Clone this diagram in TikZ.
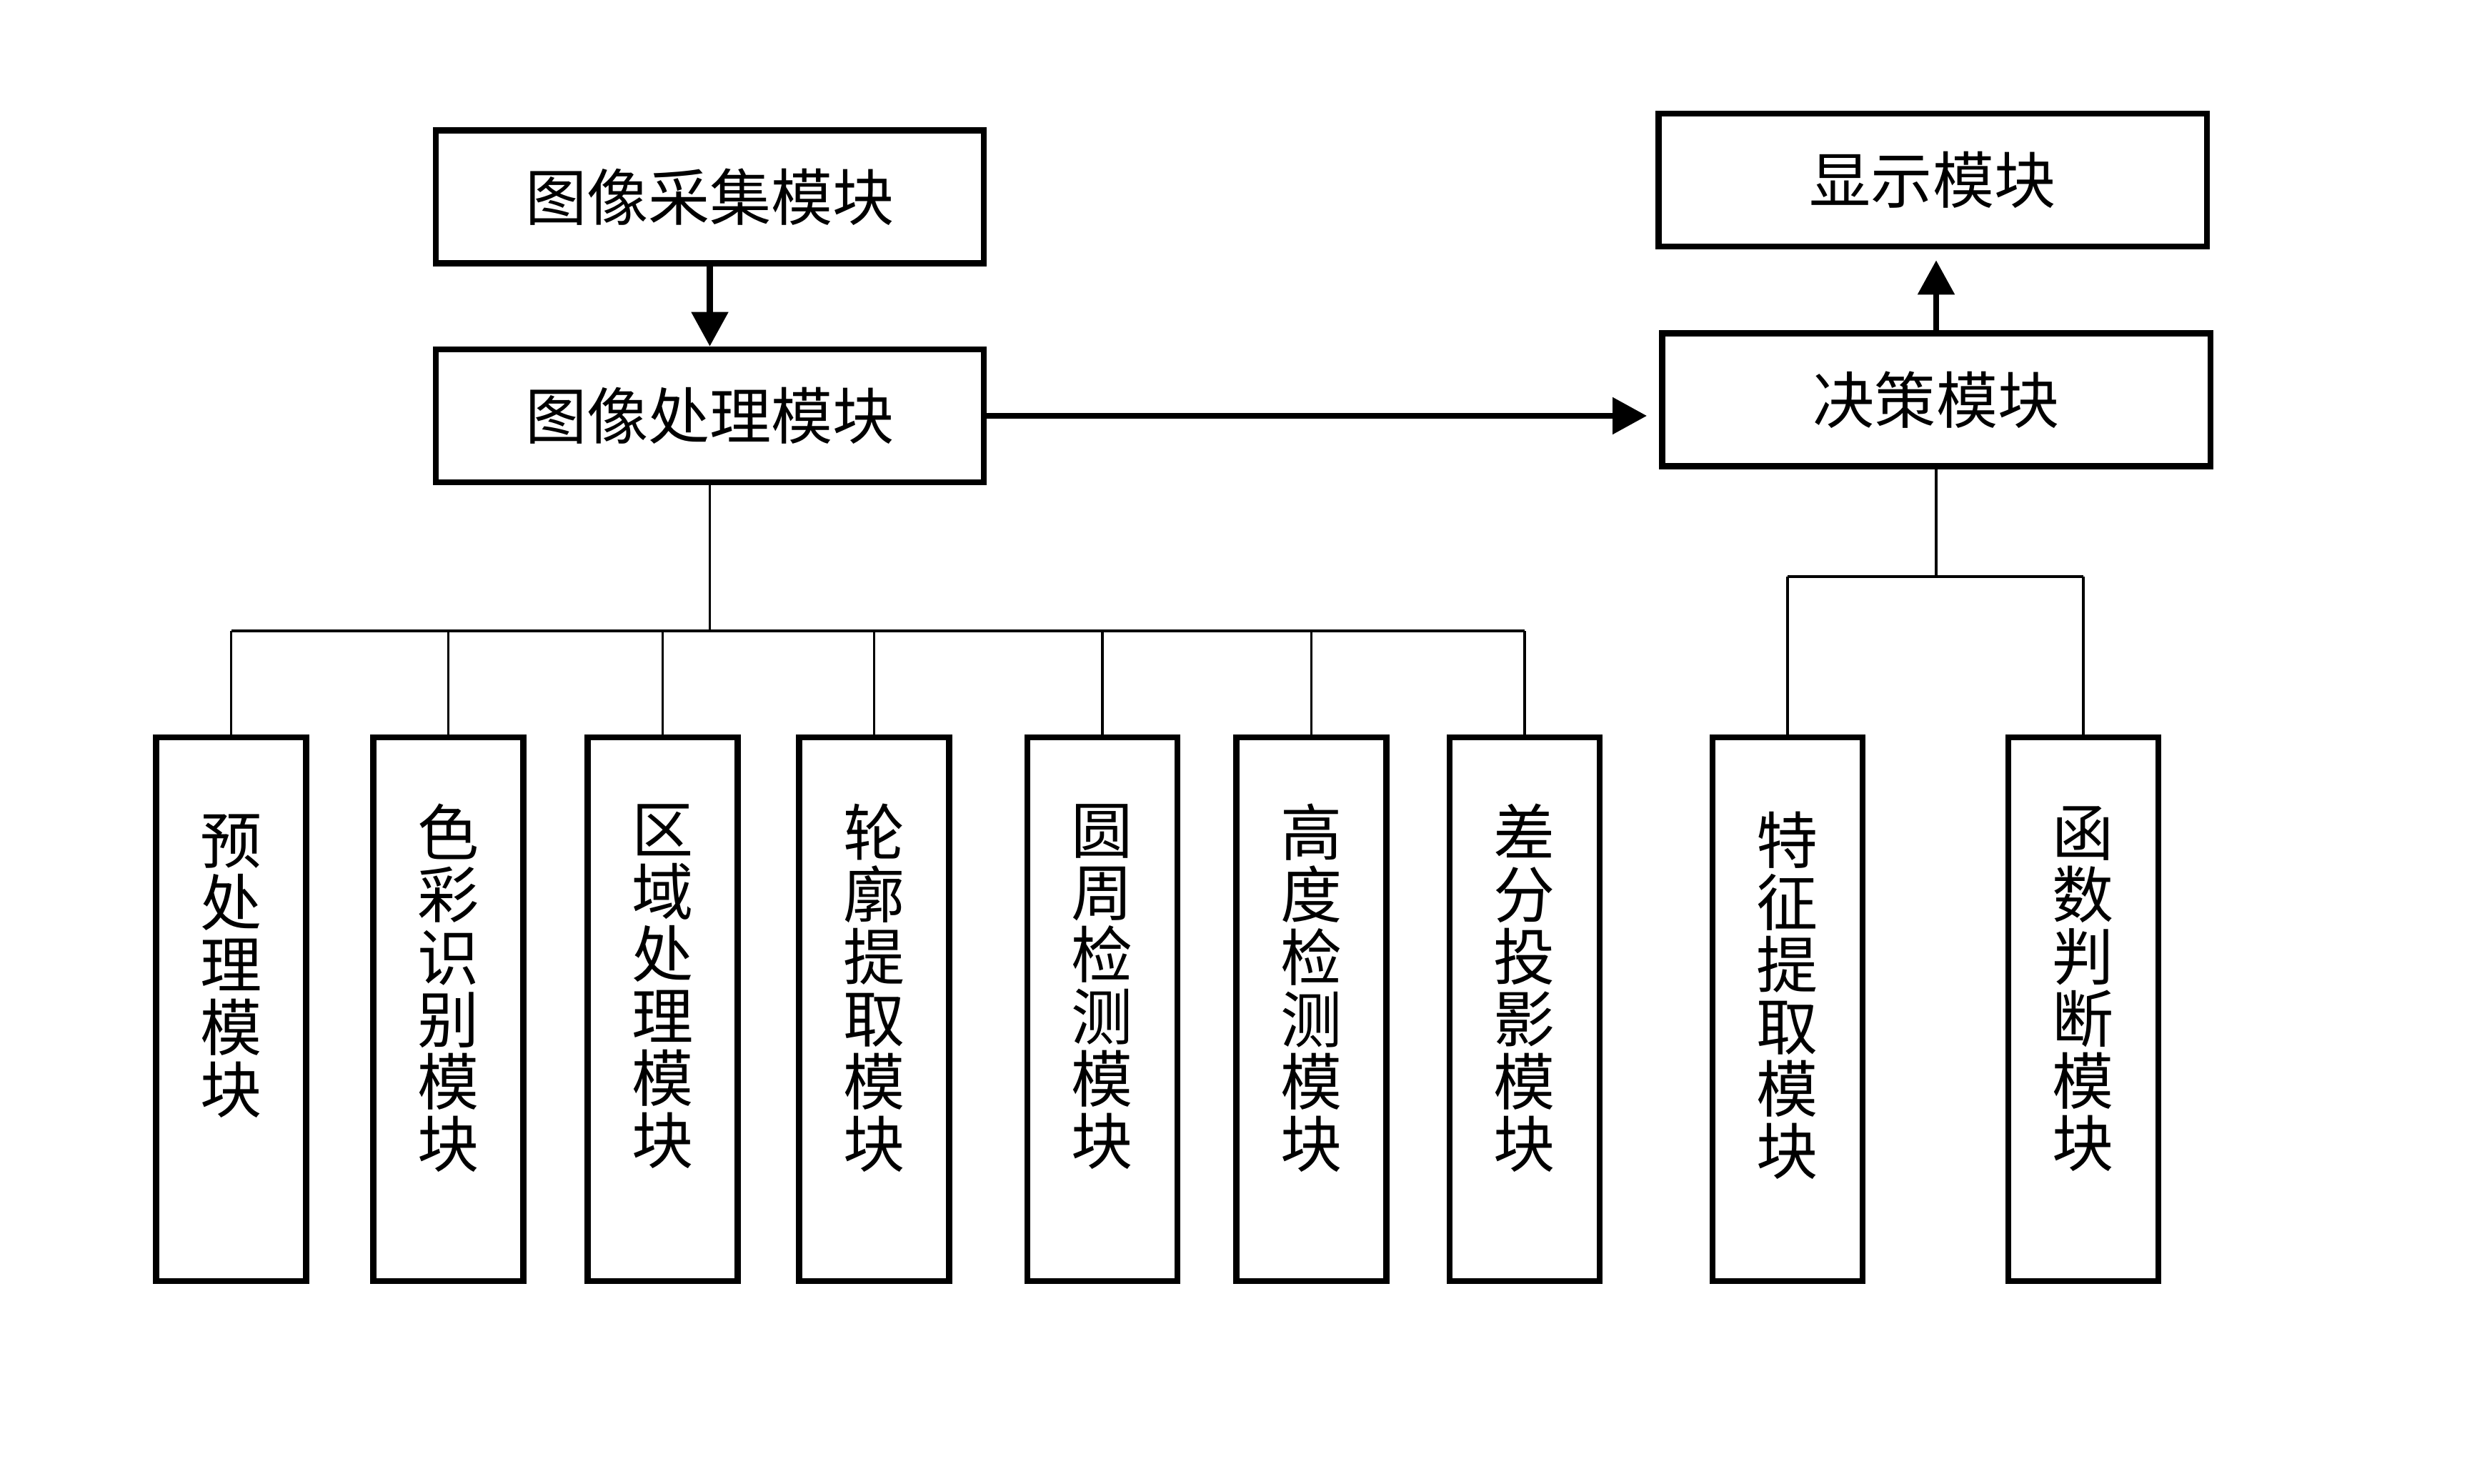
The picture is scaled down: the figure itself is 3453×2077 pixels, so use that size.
\documentclass[tikz,border=0pt]{standalone}
\usepackage{fontspec}
\newfontfamily\cjk{Noto Sans CJK SC}
\usetikzlibrary{arrows.meta}
\newcommand\myhfont{\cjk\fontsize{24.5pt}{26pt}\selectfont}
\newcommand\myvfont{\cjk\fontsize{24.5pt}{24.75pt}\selectfont}
\begin{document}
\begin{tikzpicture}[x=0.01cm,y=-0.01cm,
  hbox/.style={draw, line width=2.4pt, minimum width=7.67cm, minimum height=1.86cm, inner sep=0pt, font=\myhfont},
  vbox/.style={draw, line width=2.4pt, minimum width=2.10cm, minimum height=7.61cm, inner sep=0pt},
  vtext/.style={align=center, inner sep=0pt, anchor=north, font=\myvfont},
  arr/.style={line width=2.4pt, -{Triangle[length=0.48cm,width=0.5cm]}},
  bus/.style={line width=1.1pt}]
\fill[white] (0,0) rectangle (3453,2077);
\useasboundingbox (0,0) rectangle (3453,2077);

% top boxes
\node[hbox] (cj) at (993.5,275.5) {图像采集模块};
\node[hbox] (cl) at (993.5,582) {图像处理模块};
\node[hbox] (xs) at (2705,252) {显示模块};
\node[hbox] (jc) at (2710,559.5) {决策模块};

% lower boxes
\node[vbox] (b1) at (323.5,1412.5) {};
\node[vbox] (b2) at (627.5,1412.5) {};
\node[vbox] (b3) at (927.5,1412.5) {};
\node[vbox] (b4) at (1223.5,1412.5) {};
\node[vbox] (b5) at (1543,1412.5) {};
\node[vbox] (b6) at (1835.5,1412.5) {};
\node[vbox] (b7) at (2134,1412.5) {};
\node[vbox] (b8) at (2502,1412.5) {};
\node[vbox] (b9) at (2916,1412.5) {};

\node[vtext] (t1) at ([yshift=-1.12cm]b1.north) {预\\处\\理\\模\\块};
\node[vtext] (t2) at ([yshift=-0.97cm]b2.north) {色\\彩\\识\\别\\模\\块};
\node[vtext] (t3) at ([yshift=-0.97cm]b3.north) {区\\域\\处\\理\\模\\块};
\node[vtext] (t4) at ([yshift=-0.97cm]b4.north) {轮\\廓\\提\\取\\模\\块};
\node[vtext] (t5) at ([yshift=-0.97cm]b5.north) {圆\\周\\检\\测\\模\\块};
\node[vtext] (t6) at ([yshift=-0.97cm]b6.north) {高\\度\\检\\测\\模\\块};
\node[vtext] (t7) at ([yshift=-0.97cm]b7.north) {差\\分\\投\\影\\模\\块};
\node[vtext] (t8) at ([yshift=-1.08cm]b8.north) {特\\征\\提\\取\\模\\块};
\node[vtext] (t9) at ([yshift=-1.00cm]b9.north) {函\\数\\判\\断\\模\\块};

% arrows
\draw[arr] (cj.south) -- (cl.north);
\draw[arr, shorten >=0.17cm] (cl.east) -- (cl.east -| jc.west);
\draw[arr, shorten >=0.15cm] (jc.north) -- (jc.north |- xs.south);

% left bus
\coordinate (busc) at (993.5,883);
\draw[bus] (cl.south) -- (busc);
\draw[bus] (b1.north |- busc) -- (b7.north |- busc);
\foreach \b in {b1,b2,b3,b4,b5,b6,b7}
  \draw[bus] (\b.north) -- (\b.north |- busc);

% right bus
\coordinate (rbus) at (2710,807);
\draw[bus] (jc.south) -- (rbus);
\draw[bus] (b8.north |- rbus) -- (b9.north |- rbus);
\foreach \b in {b8,b9}
  \draw[bus] (\b.north) -- (\b.north |- rbus);
\end{tikzpicture}
\end{document}
